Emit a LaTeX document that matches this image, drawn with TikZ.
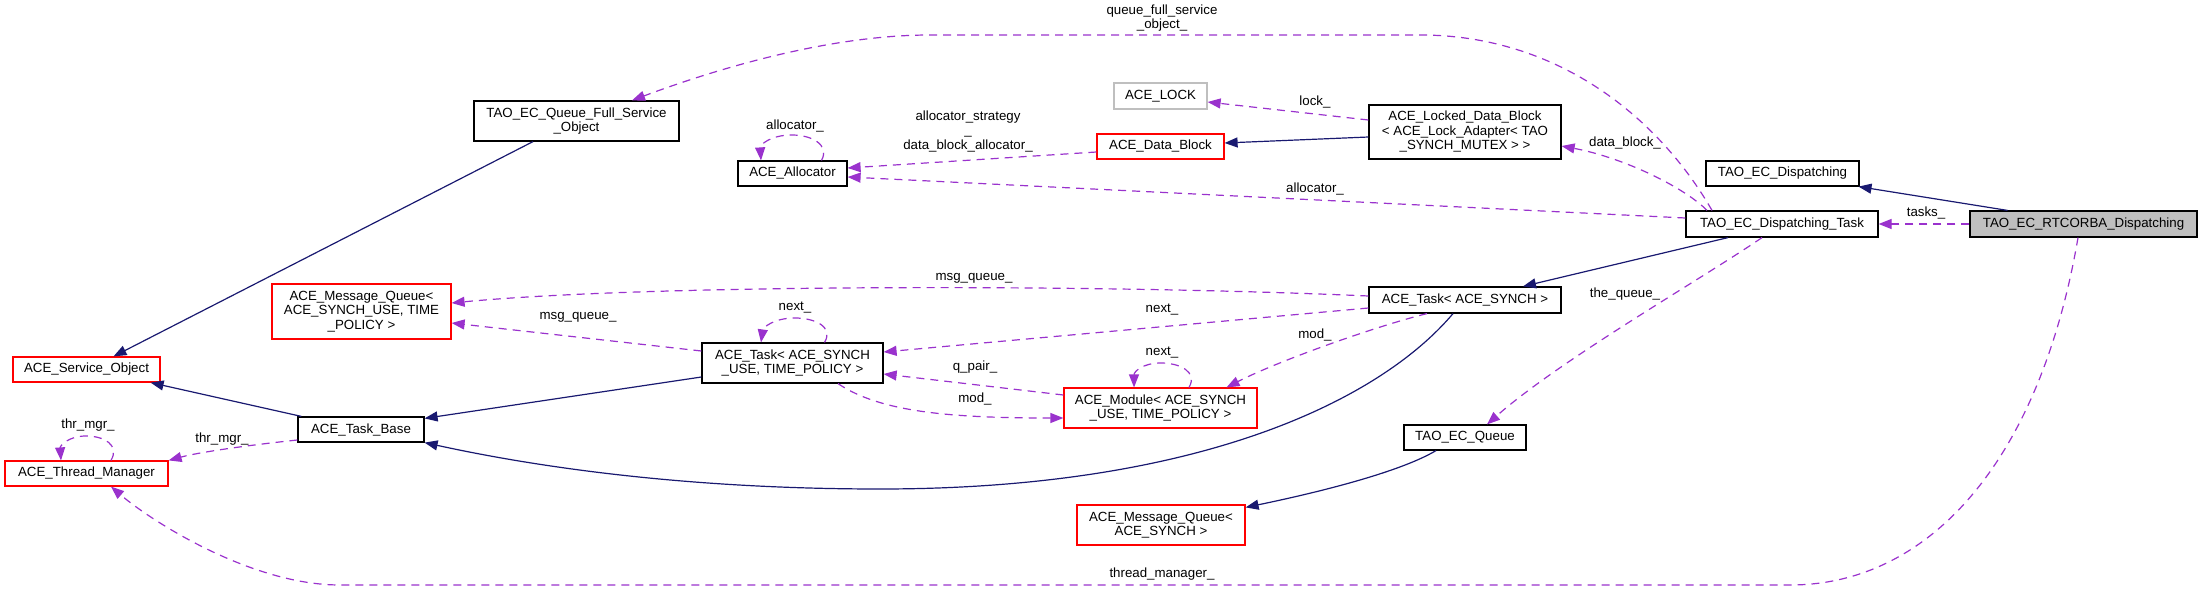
\documentclass[tikz,border=0pt]{standalone}
\usepackage{fontspec}
\setmainfont{Liberation Sans}
\usetikzlibrary{arrows.meta}
\definecolor{edgeblue}{RGB}{25,25,112}
\definecolor{edgepurple}{RGB}{154,50,205}
\definecolor{boxgray}{RGB}{191,191,191}
\newcommand{\dfont}{\fontsize{13.3}{14.5}\selectfont}
\begin{document}
\begin{tikzpicture}[x=1pt,y=-1pt,
  box/.style={draw, line width=1.2pt, inner sep=0pt, align=center, font=\dfont},
  redbox/.style={box, draw=red},
  graybox/.style={box, draw=boxgray},
  inh/.style={draw=edgeblue, line width=1.2pt, -{Triangle[length=13pt,width=10pt]}},
  usee/.style={draw=edgepurple, line width=1.2pt, dash pattern=on 8pt off 6pt, -{Triangle[length=13pt,width=10pt]}},
  lbl/.style={font=\dfont, inner sep=0pt, align=center}]
\useasboundingbox (0,0) rectangle (2203,591);

% nodes
\node[box, fill=boxgray, minimum width=227pt, minimum height=26pt] (rt) at (2083.5,224) {TAO\_EC\_RTCORBA\_Dispatching};
\node[box, minimum width=153pt, minimum height=25pt] (disp) at (1782.5,173.5) {TAO\_EC\_Dispatching};
\node[box, minimum width=192pt, minimum height=26pt] (task) at (1782,224) {TAO\_EC\_Dispatching\_Task};
\node[box, minimum width=192pt, minimum height=54pt] (locked) at (1465,132) {ACE\_Locked\_Data\_Block\\< ACE\_Lock\_Adapter< TAO\\\_SYNCH\_MUTEX > >};
\node[graybox, minimum width=93pt, minimum height=26pt] (lock) at (1160.5,96) {ACE\_LOCK};
\node[redbox, minimum width=127pt, minimum height=25pt] (dblock) at (1160.5,146.5) {ACE\_Data\_Block};
\node[box, minimum width=109pt, minimum height=25pt] (alloc) at (792.5,173.5) {ACE\_Allocator};
\node[box, minimum width=205pt, minimum height=40pt] (qfso) at (576.5,121) {TAO\_EC\_Queue\_Full\_Service\\\_Object};
\node[box, minimum width=192pt, minimum height=26pt] (acetask) at (1465,300) {ACE\_Task< ACE\_SYNCH >};
\node[redbox, minimum width=179pt, minimum height=55pt] (mqone) at (361.5,311.5) {ACE\_Message\_Queue<\\ACE\_SYNCH\_USE, TIME\\\_POLICY >};
\node[box, minimum width=181pt, minimum height=40pt] (tasktp) at (792.5,363) {ACE\_Task< ACE\_SYNCH\\\_USE, TIME\_POLICY >};
\node[redbox, minimum width=193pt, minimum height=40pt] (module) at (1160.5,408) {ACE\_Module< ACE\_SYNCH\\\_USE, TIME\_POLICY >};
\node[box, minimum width=126pt, minimum height=25pt] (taskbase) at (361,429.5) {ACE\_Task\_Base};
\node[redbox, minimum width=147pt, minimum height=25pt] (svc) at (86.5,369.5) {ACE\_Service\_Object};
\node[redbox, minimum width=163pt, minimum height=25pt] (thr) at (86.5,473.5) {ACE\_Thread\_Manager};
\node[box, minimum width=122pt, minimum height=25pt] (ecq) at (1465,437.5) {TAO\_EC\_Queue};
\node[redbox, minimum width=168pt, minimum height=40pt] (mqtwo) at (1161,525) {ACE\_Message\_Queue<\\ACE\_SYNCH >};

% inheritance edges
\draw[inh] ([xshift=-76pt]rt.north) -- ([xshift=76pt]disp.south);
\draw[inh] ([xshift=-54pt]task.south) -- ([xshift=58pt]acetask.north);
\draw[inh] ([yshift=-5pt]locked.west) -- ([yshift=3.5pt]dblock.east);
\draw[inh] ([xshift=-12pt]acetask.south) .. controls (1380,400) and (1200,489) .. (880,489)
           .. controls (700,489) and (550,470) .. (taskbase.south east);
\draw[inh] ([yshift=-14pt]tasktp.west) -- ([yshift=-2pt]taskbase.north east);
\draw[inh] ([xshift=4pt]taskbase.north west) -- ([xshift=-10pt]svc.south east);
\draw[inh] ([xshift=-43.5pt]qfso.south) -- ([xshift=27pt]svc.north);
\draw[inh] ([xshift=-29pt]ecq.south) .. controls (1400,472) and (1320,492) .. ([yshift=-3pt]mqtwo.north east);

% usage edges
\draw[usee] (rt.west) -- (task.east);
\draw[usee] ([xshift=-75pt]task.north) .. controls (1685,188) and (1625,158) .. ([yshift=-14pt]locked.east);
\draw[usee] ([yshift=6pt]task.west) -- ([yshift=-3.5pt]alloc.east);
\draw[usee] ([xshift=-70pt]task.north) .. controls (1660,120) and (1560,35) .. (1420,35)
            -- (930,35) .. controls (820,35) and (700,75) .. ([xshift=55.5pt]qfso.north);
\draw[usee] ([xshift=-20pt]task.south) .. controls (1700,280) and (1560,360) .. ([xshift=22pt]ecq.north);
\draw[usee] ([yshift=12pt]locked.west) -- ([yshift=-6pt]lock.east);
\draw[usee] ([yshift=-5.5pt]dblock.west) -- ([yshift=5.5pt]alloc.east);
\draw[usee] ([xshift=29pt]alloc.north) .. controls (830,145) and (812,135) .. (792,135)
            .. controls (770,135) and (760,145) .. ([xshift=-31.5pt]alloc.north);
\draw[usee] ([yshift=4pt]acetask.west) .. controls (1100,284) and (650,284) .. ([yshift=8.5pt]mqone.east);
\draw[usee] ([yshift=-8pt]acetask.west) -- ([yshift=11pt]tasktp.east);
\draw[usee] ([xshift=-38pt]acetask.south) .. controls (1380,325) and (1280,360) .. ([xshift=66pt]module.north);
\draw[usee] ([yshift=12pt]tasktp.west) -- ([yshift=-11.5pt]mqone.east);
\draw[usee] ([xshift=32pt]tasktp.north) .. controls (834,327) and (815,318) .. (795,318)
            .. controls (773,318) and (763,328) .. ([xshift=-31.5pt]tasktp.north);
\draw[usee] ([xshift=45.5pt]tasktp.south) .. controls (880,412) and (950,418) .. ([yshift=-10pt]module.west);
\draw[usee] ([yshift=13pt]module.west) -- ([yshift=-11pt]tasktp.east);
\draw[usee] ([xshift=28.5pt]module.north) .. controls (1198,372) and (1180,363) .. (1161,363)
            .. controls (1142,363) and (1134,372) .. ([xshift=-26.5pt]module.north);
\draw[usee] ([yshift=-10.5pt]taskbase.west) .. controls (250,445) and (200,452) .. (thr.north east);
\draw[usee] ([xshift=24.5pt]thr.north) .. controls (120,445) and (104,436) .. (86,436)
            .. controls (68,436) and (60,446) .. ([xshift=-25.5pt]thr.north);
\draw[usee] ([xshift=-5.5pt]rt.south) .. controls (2040,460) and (1930,585) .. (1790,585)
            -- (340,585) .. controls (250,585) and (150,520) .. ([xshift=24.5pt]thr.south);

% labels
\node[lbl] (ltasks) at (1926,213) {tasks\_};
\node[lbl] (ldb) at (1625,143) {data\_block\_};
\node[lbl] (lqfso) at (1162,18) {queue\_full\_service\\\_object\_};
\node[lbl] (lthequeue) at (1625,294) {the\_queue\_};
\node[lbl] (lallocb) at (1315,189) {allocator\_};
\node[lbl] (llock) at (1315,102) {lock\_};
\node[lbl] (lallocs) at (968,131.5) {allocator\_strategy\\\_\\data\_block\_allocator\_};
\node[lbl] (lallocself) at (795,126) {allocator\_};
\node[lbl] (lmsgq) at (974,278) {msg\_queue\_};
\node[lbl] (lnexta) at (1162,310) {next\_};
\node[lbl] (lmoda) at (1315,335) {mod\_};
\node[lbl] (lmsgqb) at (578,317) {msg\_queue\_};
\node[lbl] (lnextself) at (795,308) {next\_};
\node[lbl] (lnextmod) at (1162,353) {next\_};
\node[lbl] (lqpair) at (975,367) {q\_pair\_};
\node[lbl] (lmodb) at (975,399) {mod\_};
\node[lbl] (lthr) at (222,439) {thr\_mgr\_};
\node[lbl] (lthrself) at (88,425) {thr\_mgr\_};
\node[lbl] (ltm) at (1162,574) {thread\_manager\_};
\end{tikzpicture}
\end{document}
